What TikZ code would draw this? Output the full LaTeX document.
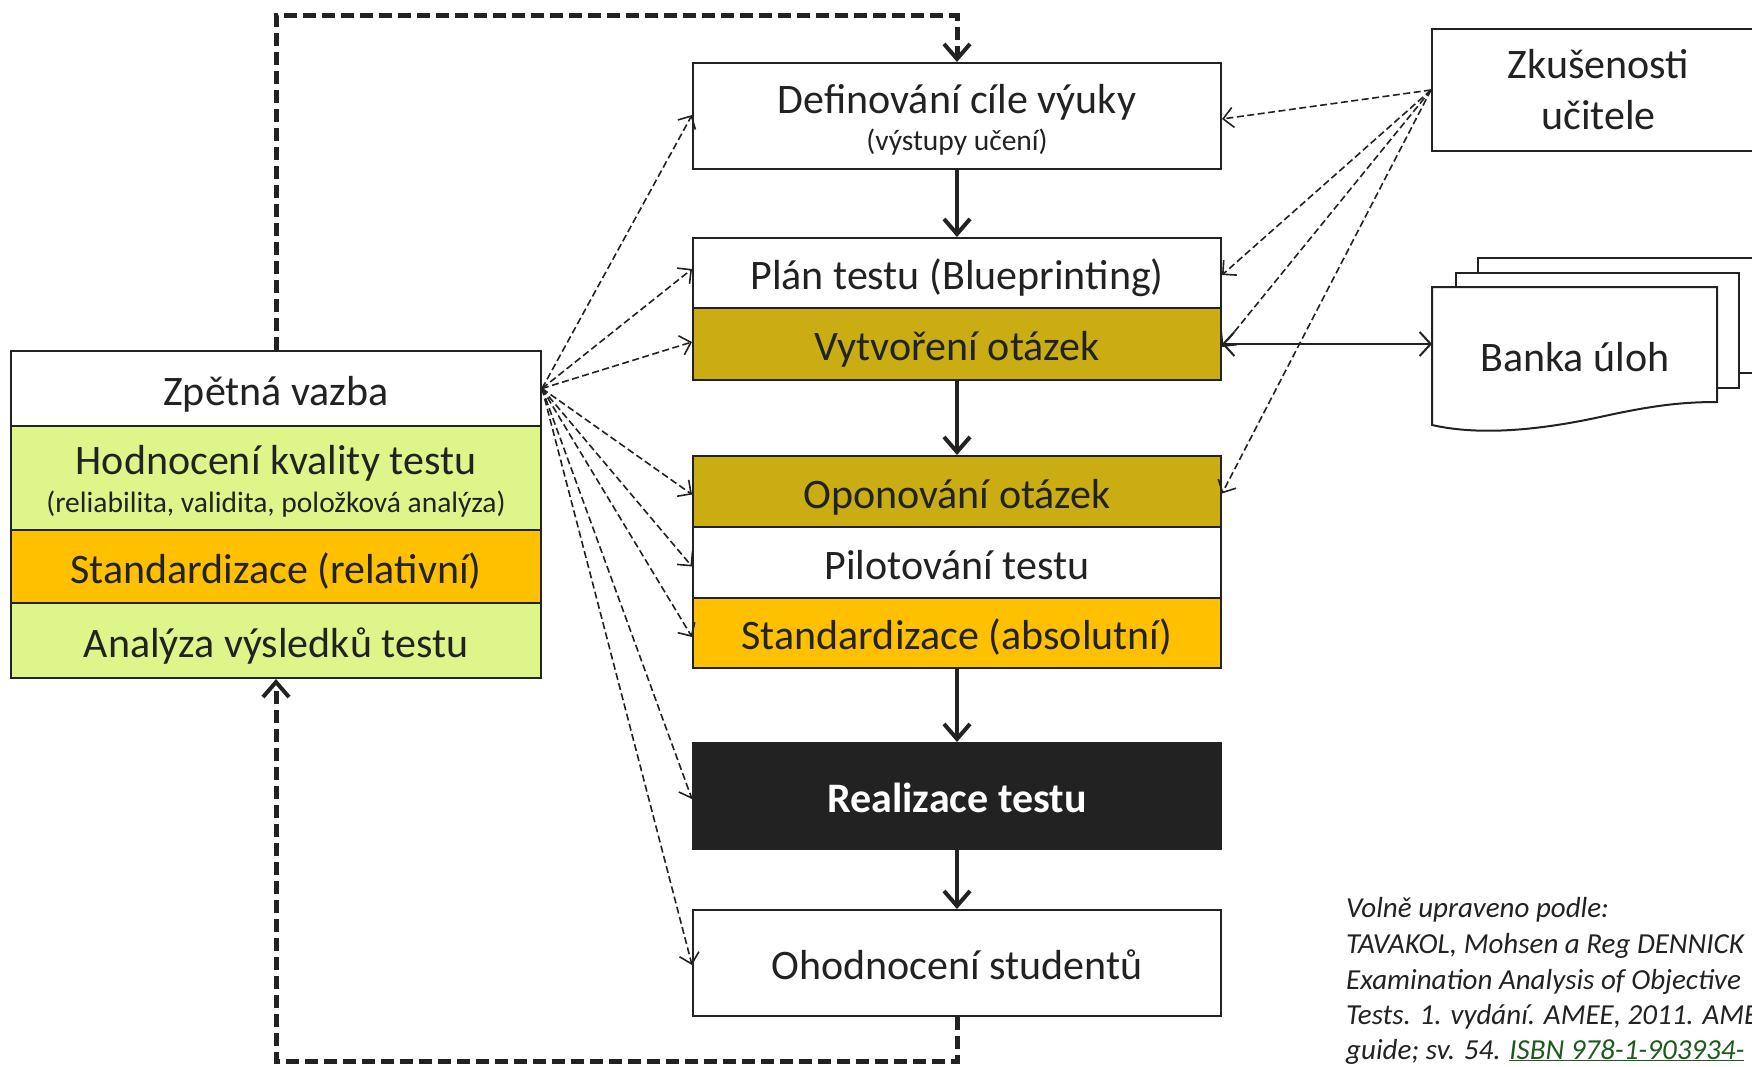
\documentclass[tikz,border=0pt]{standalone}
\usepackage{fontspec}
\setmainfont{Carlito}
\usetikzlibrary{arrows.meta}
\definecolor{ink}{HTML}{222222}
\definecolor{olivegold}{HTML}{C9AD13}
\definecolor{amber}{HTML}{FFC000}
\definecolor{limegreen}{HTML}{DEF58A}
\definecolor{isbngreen}{HTML}{1E5A1E}
\begin{document}
\begin{tikzpicture}[x=1pt,y=-1pt,
  box/.style={draw=ink,line width=2pt,inner sep=0pt,text=ink,align=center,
    font=\fontsize{42}{50}\selectfont,text height=35pt,text depth=2pt},
  twoline/.style={text height={},text depth={}},
  midbox/.style={box,minimum width=528pt},
  leftbox/.style={box,minimum width=530pt},
  flow/.style={draw=ink,line width=4.5pt,
    -{Straight Barb[length=15pt,width=26pt,line width=4pt]}},
  feedback/.style={draw=ink,line width=5pt,dash pattern=on 13pt off 6pt,
    -{Straight Barb[length=15pt,width=26pt,line width=4pt]}},
  hint/.style={draw=ink,line width=1.6pt,dash pattern=on 7pt off 3.5pt,
    -{Straight Barb[length=10pt,width=20pt,line width=1.6pt]}},
  link/.style={draw=ink,line width=2pt,
    {Straight Barb[length=11pt,width=24pt,line width=2pt]}-{Straight Barb[length=11pt,width=24pt,line width=2pt]}},
  page/.style={draw=ink,line width=2pt,fill=white},
  cite/.style={anchor=base west,inner sep=0pt,text=ink,
    font=\itshape\fontsize{29}{34}\selectfont}]

\useasboundingbox (0,0) rectangle (1752,1067);
\clip (0,0) rectangle (1752,1067);
\fill[white] (0,0) rectangle (1752,1067);

% main sequence of steps
\node[midbox,twoline,minimum height=106pt] (def) at (957,116)
  {\raisebox{0pt}[36pt][0pt]{Definování cíle výuky}\\[-13pt]{\fontsize{29.5}{32}\selectfont (výstupy učení)}};
\node[midbox,minimum height=70pt,fill=white] (plan) at (957,273) {Plán testu (Blueprinting)};
\node[midbox,minimum height=72pt,fill=olivegold] (vytv) at (957,344) {Vytvoření otázek};
\node[midbox,minimum height=71pt,fill=olivegold] (opon) at (957,491.5) {Oponování otázek};
\node[midbox,minimum height=71pt,fill=white] (pilot) at (957,562.5) {Pilotování testu};
\node[midbox,minimum height=70pt,fill=amber] (stdabs) at (957,633) {Standardizace (absolutní)};
\node[midbox,minimum height=106pt,fill=ink,text=white,font=\bfseries\fontsize{42}{50}\selectfont] (real) at (957,796) {Realizace testu};
\node[midbox,minimum height=106pt,fill=white] (ohod) at (957,963) {Ohodnocení studentů};

% feedback block
\node[leftbox,minimum height=75pt,fill=white] (zpet) at (276,388.5) {Zpětná vazba};
\node[leftbox,twoline,minimum height=104pt,fill=limegreen] (hodn) at (276,478)
  {\raisebox{0pt}[36pt][0pt]{Hodnocení kvality testu}\\[-12pt]{\fontsize{29.5}{32}\selectfont (reliabilita, validita, položková analýza)}};
\node[leftbox,minimum height=73pt,fill=amber] (stdrel) at (276,566.5) {Standardizace (relativní)};
\node[leftbox,minimum height=75pt,fill=limegreen] (anal) at (276,640.5) {Analýza výsledků testu};

% teacher experience
\node[box,twoline,minimum width=333pt,minimum height=122pt,fill=white,
  font=\fontsize{42}{51}\selectfont] (zk) at (1598.5,90) {Zkušenosti\\učitele};

% item bank: stacked document pages
\draw[page] (1478,258) rectangle (1800,373);
\draw[page] (1456,273) rectangle (1739,388);
\draw[page] (1432,287) -- (1717,287) -- (1717,402)
  .. controls (1680,402) and (1650,406) .. (1600,417)
  .. controls (1540,430) and (1480,436) .. (1432,425) -- cycle;
\node[inner sep=0pt,text=ink,font=\fontsize{42}{50}\selectfont] (banka) at (1575,357) {Banka úloh};
\coordinate (bankaW) at (1432,344);

% main flow
\draw[flow] (def) -- (plan);
\draw[flow] (vytv) -- (opon);
\draw[flow] (stdabs) -- (real);
\draw[flow] (real) -- (ohod);

% feedback loops
\coordinate (topY) at (0,16);
\coordinate (botY) at (0,1061.5);
\draw[feedback] (zpet.north) -- (zpet.north |- topY) -| (def.north);
\draw[feedback] (ohod.south) -- (ohod.south |- botY) -| (anal.south);

% feedback influences every step
\foreach \t/\dy in {def/1,plan/4,vytv/2,opon/-3,pilot/-4,stdabs/-4,real/-3,ohod/-2}
  \draw[hint] (zpet.east) -- ([yshift=\dy pt]\t.west);

% teacher experience influences
\foreach \t/\dy in {def/-3,plan/-2,vytv/-3,opon/-2}
  \draw[hint] (zk.west) -- ([yshift=\dy pt]\t.east);

% item bank link
\draw[link] (vytv.east) -- (bankaW);

% source note
\node[cite] (c1) at (1346,917) {Volně upraveno podle:};
\node[cite] (c2) at (1346,953) {TAVAKOL, Mohsen a Reg DENNICK};
\node[cite] (c3) at (1346,989) {Examination Analysis of Objective};
\node[cite] (c4) at (1346,1024) {Tests. 1. vydání. AMEE, 2011. AME};
\node[cite] (c5) at (1346,1059) {guide; sv. 54. {\color{isbngreen}\underline{ISBN 978-1-903934-}}};
\end{tikzpicture}
\end{document}
